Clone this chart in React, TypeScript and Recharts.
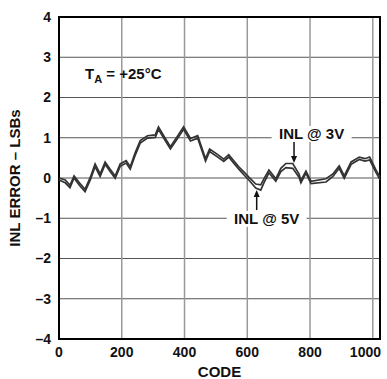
import React from 'react';
import { LineChart, Line, XAxis, YAxis, CartesianGrid, ReferenceArea, ReferenceDot } from 'recharts';

const codes = [0, 20, 35, 48, 65, 83, 100, 115, 131, 147, 163, 179, 195, 214, 227, 243, 259, 282, 307, 317, 336, 355, 376, 397, 419, 442, 467, 480, 506, 525, 541, 557, 573, 589, 605, 627, 643, 653, 669, 691, 707, 723, 745, 765, 771, 787, 803, 851, 873, 893, 909, 931, 957, 975, 990, 1010, 1023];
const inl3V = [0.0, -0.05, -0.18, 0.05, -0.12, -0.28, 0.02, 0.35, 0.1, 0.4, 0.22, 0.05, 0.35, 0.43, 0.28, 0.63, 0.93, 1.05, 1.07, 1.27, 1.02, 0.78, 1.02, 1.27, 0.98, 1.05, 0.48, 0.72, 0.58, 0.47, 0.58, 0.43, 0.28, 0.15, 0.02, -0.15, -0.17, -0.02, 0.2, -0.02, 0.24, 0.36, 0.36, 0.1, -0.06, 0.17, -0.08, -0.02, 0.1, 0.3, 0.05, 0.4, 0.52, 0.48, 0.52, 0.2, 0.02];
const inl5V = [-0.05, -0.12, -0.24, 0.0, -0.18, -0.34, -0.04, 0.28, 0.04, 0.34, 0.16, -0.01, 0.29, 0.37, 0.22, 0.57, 0.87, 0.99, 1.01, 1.21, 0.96, 0.72, 0.96, 1.21, 0.92, 0.99, 0.42, 0.66, 0.52, 0.41, 0.52, 0.37, 0.22, 0.08, -0.05, -0.25, -0.3, -0.12, 0.13, -0.08, 0.16, 0.26, 0.24, 0.02, -0.12, 0.12, -0.14, -0.1, 0.04, 0.24, -0.01, 0.34, 0.46, 0.42, 0.45, 0.14, -0.04];
const xTicks = [0, 200, 400, 600, 800, 1000];
const yTicks = [-4, -3, -2, -1, 0, 1, 2, 3, 4];

const data = codes.map((c, i) => ({ code: c, v3: inl3V[i], v5: inl5V[i] }));

const FONT = '"Liberation Sans", Arial, Helvetica, sans-serif';
const fmt = (v: number) => String(v).replace('-', '\u2013');

const XTick = (props: any) => {
  const { x, y, payload } = props;
  const last = payload.value === xTicks[xTicks.length - 1];
  return (
    <text x={last ? x + 10 : x} y={y} dy="0.71em" textAnchor={last ? 'end' : 'middle'} fontFamily={FONT} fontWeight="bold" fontSize={14} fill="#111">
      {payload.value}
    </text>
  );
};

const TaLabel = (props: any) => {
  const { cx, cy } = props;
  return (
    <text x={cx} y={cy} fontFamily={FONT} fontWeight="bold" fontSize={15} fill="#111">
      T<tspan dy={4} fontSize={11}>A</tspan>
      <tspan dy={-4}> = +25°C</tspan>
    </text>
  );
};

const BoxLabel = (text: string) => (props: any) => {
  const { cx, cy } = props;
  return (
    <g>
      <rect x={cx - 40} y={cy - 13} width={80} height={16} fill="#fff" />
      <text x={cx} y={cy} textAnchor="middle" fontFamily={FONT} fontWeight="bold" fontSize={15} fill="#111">
        {text}
      </text>
    </g>
  );
};

const ArrowDown = (props: any) => {
  const { cx, cy } = props;
  return (
    <g>
      <line x1={cx} y1={cy - 21} x2={cx} y2={cy - 5} stroke="#111" strokeWidth={1.5} />
      <path d={`M${cx - 3},${cy - 7} L${cx + 3},${cy - 7} L${cx},${cy} Z`} fill="#111" />
    </g>
  );
};

const ArrowUp = (props: any) => {
  const { cx, cy } = props;
  return (
    <g>
      <line x1={cx} y1={cy + 20} x2={cx} y2={cy + 5} stroke="#111" strokeWidth={1.5} />
      <path d={`M${cx - 3},${cy + 7} L${cx + 3},${cy + 7} L${cx},${cy} Z`} fill="#111" />
    </g>
  );
};

const YLabel = (props: any) => {
  const { viewBox } = props;
  const x = 14;
  const y = viewBox.y + viewBox.height / 2;
  return (
    <text x={x} y={y} transform={`rotate(-90 ${x} ${y})`} textAnchor="middle" dominantBaseline="central" fontFamily={FONT} fontWeight="bold" fontSize={15} fill="#111">
      INL ERROR – LSBs
    </text>
  );
};

export default function App() {
  return (
    <div style={{ position: 'absolute', left: 0, top: 0, background: '#fff' }}>
      <LineChart width={387} height={379} data={data} margin={{ top: 17, right: 7, left: 0, bottom: 0 }}>
        <CartesianGrid horizontal={true} vertical={false} stroke="#555" strokeWidth={1} />
        <CartesianGrid horizontal={false} vertical={true} stroke="#999" strokeWidth={1.5} />
        <XAxis
          dataKey="code"
          type="number"
          domain={[0, 1023]}
          ticks={xTicks}
          tickLine={false}
          axisLine={false}
          height={40}
          tick={<XTick />}
          label={{ value: 'CODE', position: 'insideBottom', offset: 2, style: { fontFamily: FONT, fontWeight: 'bold', fontSize: 15, fill: '#111' } }}
        />
        <YAxis
          type="number"
          domain={[-4, 4]}
          ticks={yTicks}
          tickFormatter={fmt}
          tickLine={false}
          axisLine={false}
          width={59}
          tick={{ fontFamily: FONT, fontWeight: 'bold', fontSize: 14, fill: '#111' }}
          label={{ content: YLabel }}
        />
        <ReferenceArea x1={0} x2={1023} y1={-4} y2={4} fill="none" stroke="#000" strokeWidth={2} fillOpacity={0} />
        <Line type="linear" dataKey="v3" stroke="#333" strokeWidth={1.7} dot={false} isAnimationActive={false} />
        <Line type="linear" dataKey="v5" stroke="#333" strokeWidth={1.7} dot={false} isAnimationActive={false} />
        <ReferenceDot x={83} y={2.46} r={0} shape={TaLabel} />
        <ReferenceDot x={805} y={0.97} r={0} shape={BoxLabel('INL @ 3V')} />
        <ReferenceDot x={662} y={-1.14} r={0} shape={BoxLabel('INL @ 5V')} />
        <ReferenceDot x={749} y={0.37} r={0} shape={ArrowDown} />
        <ReferenceDot x={630} y={-0.3} r={0} shape={ArrowUp} />
      </LineChart>
    </div>
  );
}
